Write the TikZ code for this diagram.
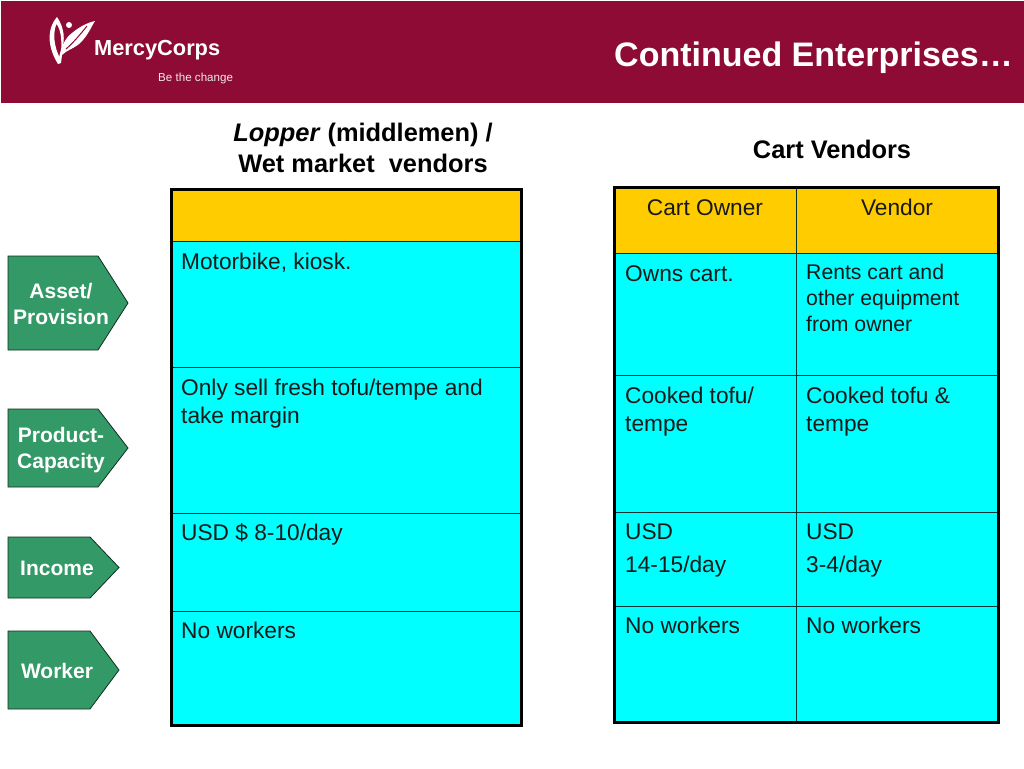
\documentclass[tikz,border=0pt]{standalone}
\usepackage{fontspec}
\setmainfont{Liberation Sans}
\usetikzlibrary{positioning}
\definecolor{bannerred}{HTML}{8D0B35}
\definecolor{headgold}{HTML}{FFCC00}
\definecolor{cellcyan}{HTML}{00FFFF}
\definecolor{tabgreen}{HTML}{339966}
\tikzset{
  celltext/.style={anchor=north west, inner sep=0pt, align=left, font=\fontsize{22.7}{27.5}\selectfont, text=black!90},
  smalltext/.style={celltext, font=\fontsize{21.2}{26}\selectfont},
  widetext/.style={celltext, font=\fontsize{22.7}{33}\selectfont},
  headtext/.style={anchor=north, inner sep=0pt, align=center, font=\fontsize{22.7}{27}\selectfont, text=black!90},
  tabtext/.style={inner sep=0pt, align=center, text=white, font=\fontsize{21}{25.5}\selectfont\bfseries},
  titletext/.style={inner sep=0pt, align=center, font=\fontsize{25.4}{31}\selectfont\bfseries},
  gridline/.style={draw=black!80!cellcyan, line width=1pt},
  framerect/.style={draw=black, line width=3pt}
}
\begin{document}
\begin{tikzpicture}[x=1pt,y=-1pt]
  \useasboundingbox (0,0) rectangle (1024,768);
  \fill[white] (0,0) rectangle (1024,768);

  % Banner
  \fill[bannerred] (1,1) rectangle (1024,103);
  \node[inner sep=0pt, anchor=east, text=white, font=\fontsize{34}{36}\selectfont\bfseries] (bannertitle) at (1013,58) {Continued Enterprises…};

  % Logo
  \fill[white] (58,64) .. controls (48,48) and (46,30) .. (57,17) .. controls (64,27) and (66,40) .. (61,52) .. controls (62,40) and (61,30) .. (56.5,24) .. controls (53,32) and (53,46) .. (61,60) -- cycle;
  \fill[white] (58,64) .. controls (60,48) and (65,38) .. (72,33) .. controls (78,28) and (86,23) .. (95,21) .. controls (91,27) and (88,36) .. (79,44) .. controls (73,49) and (67,50) .. (62,55) -- (61,63) -- cycle;
  \draw[bannerred, line width=1pt] (66,49) .. controls (72,44) and (79,36) .. (87,26);
  \fill[white] (69,25) circle (3);
  \node[inner sep=0pt, anchor=west, text=white, font=\fontsize{21.8}{24}\selectfont\bfseries] (logoname) at (94,50) {MercyCorps};
  \node[inner sep=0pt, anchor=west, text=white!90!bannerred, font=\fontsize{11.6}{12}\selectfont] (logotag) at (158,79) {Be the change};

  % Column titles
  \node[titletext] (loppertitle) at (363,148) {\textit{Lopper} (middlemen) /\\ Wet market\ \ vendors};
  \node[titletext] (carttitle) at (832,149) {Cart Vendors};

  % Left table
  \fill[headgold] (171,189) rectangle (521,241);
  \fill[cellcyan] (171,241) rectangle (521,725);
  \foreach \y in {241,367,513,611} {
    \draw[gridline] (171,\y) -- (521,\y);
  }
  \draw[framerect] (171,189) rectangle (521,725);

  % Right table
  \fill[headgold] (614,187) rectangle (998,253);
  \fill[cellcyan] (614,253) rectangle (998,722);
  \foreach \y in {253,375,512,606} {
    \draw[gridline] (614,\y) -- (998,\y);
  }
  \draw[gridline] (796,187) -- (796,722);
  \draw[framerect] (614,187) rectangle (998,722);

  % Left table text
  \node[celltext] (bike) at (181,253) {Motorbike, kiosk.};
  \node[celltext] (fresh) at (181,379) {Only sell fresh tofu/tempe and\\take margin};
  \node[celltext] (usdleft) at (181,523) {USD \$ 8-10/day};
  \node[celltext] (noworkleft) at (181,622) {No workers};

  % Right table text
  \node[headtext] (ownerhead) at (705,199) {Cart Owner};
  \node[headtext] (vendorhead) at (897,199) {Vendor};
  \node[celltext] (owns) at (625,265) {Owns cart.};
  \node[smalltext] (rents) at (806,264) {Rents cart and\\other equipment\\from owner};
  \node[celltext] (cookedowner) at (625,387) {Cooked tofu/\\tempe};
  \node[celltext] (cookedvendor) at (806,387) {Cooked tofu \&\\tempe};
  \node[widetext] (usdowner) at (625,523) {USD\\14-15/day};
  \node[widetext] (usdvendor) at (806,523) {USD\\3-4/day};
  \node[celltext] (noworkowner) at (625,617) {No workers};
  \node[celltext] (noworkvendor) at (806,617) {No workers};

  % Row tabs
  \foreach \t/\b/\n/\e in {256/350/98/128, 409/487/98/128, 537/598/90/119, 631/709/90/119} {
    \filldraw[fill=tabgreen, draw=black!70!tabgreen, line width=0.8pt] (8,\t) -- (\n,\t) -- (\e,{(\t+\b)/2}) -- (\n,\b) -- (8,\b) -- cycle;
  }
  \node[tabtext] (assettab) at (61,304) {Asset/\\Provision};
  \node[tabtext] (producttab) at (61,450) {Product-\\Capacity};
  \node[tabtext] (incometab) at (57,568) {Income};
  \node[tabtext] (workertab) at (57,671) {Worker};
\end{tikzpicture}
\end{document}
